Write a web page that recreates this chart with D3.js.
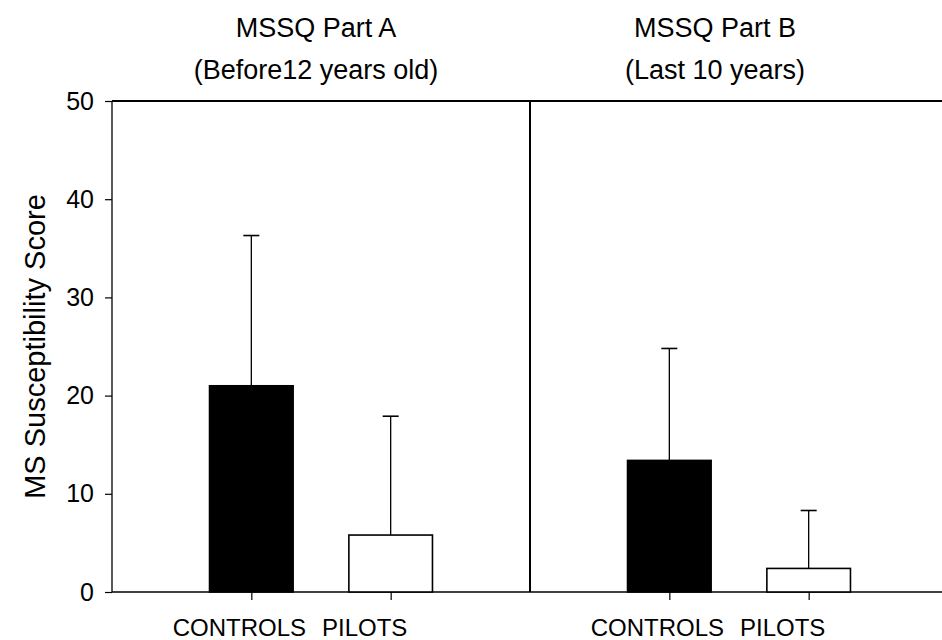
<!DOCTYPE html>
<html><head><meta charset="utf-8">
<script src="https://cdn.jsdelivr.net/npm/d3@7"></script>
<style>body{margin:0;background:#fff}svg{display:block}text{font-family:"Liberation Sans",Arial,sans-serif;fill:#000}</style>
</head><body><svg id="c" width="942" height="640"></svg>
<script>
const panels = ["A", "B"];
const panelTitles = [["MSSQ Part A", "(Before12 years old)"], ["MSSQ Part B", "(Last 10 years)"]];
const categories = ["CONTROLS", "PILOTS"];
const means = [[21.0, 5.8], [13.4, 2.4]];
const errorTops = [[36.3, 17.9], [24.8, 8.3]];
const yTicks = [0, 10, 20, 30, 40, 50];
const yTitle = "MS Susceptibility Score";

(function () {
const W = 942, H = 640;
const svg = d3.select("#c");
const plotTop = 101, plotBottom = 592, plotLeft = 112, panelW = 418;
const y = d3.scaleLinear().domain([0, 50]).range([plotBottom, plotTop]);

// y axis
const yAxis = d3.axisLeft(y).tickValues(yTicks).tickSize(7).tickPadding(11);
const ga = svg.append("g").attr("transform", `translate(${plotLeft},0)`).call(yAxis);
ga.select(".domain").remove();
ga.selectAll(".tick line").attr("stroke", "#000").attr("stroke-width", 1.2);
ga.selectAll(".tick text").style("font-size", "25px").attr("font-family", "Liberation Sans, Arial, sans-serif").attr("fill", "#000");
svg.append("line").attr("x1", plotLeft).attr("x2", plotLeft).attr("y1", plotTop).attr("y2", plotBottom).attr("stroke", "#000").attr("stroke-width", 1.3);

svg.append("text").attr("transform", `translate(45,${(plotTop + plotBottom) / 2}) rotate(-90)`)
  .attr("text-anchor", "middle").style("font-size", "29px").text(yTitle);

const titleDx = [-5, -24];
const catDx = [-12, -26];

panels.forEach((p, i) => {
  const x0 = plotLeft + i * panelW;
  const x = d3.scalePoint().domain(categories).range([x0, x0 + panelW]).padding(1);
  const bw = x.step() * 0.6;
  const g = svg.append("g");
  g.append("line").attr("x1", x0).attr("x2", Math.min(x0 + panelW, W)).attr("y1", plotTop).attr("y2", plotTop).attr("stroke", "#000").attr("stroke-width", 2);
  g.append("line").attr("x1", x0).attr("x2", Math.min(x0 + panelW, W)).attr("y1", plotBottom).attr("y2", plotBottom).attr("stroke", "#000").attr("stroke-width", 1.3);
  const xAxis = d3.axisBottom(x).tickSize(8).tickFormat("");
  const gx = g.append("g").attr("transform", `translate(0,${plotBottom})`).call(xAxis);
  gx.select(".domain").remove();
  gx.selectAll(".tick line").attr("stroke", "#000").attr("stroke-width", 1.2);
  categories.forEach((c, j) => {
    const cx = x(c);
    g.append("line").attr("x1", cx).attr("x2", cx).attr("y1", y(means[i][j])).attr("y2", y(errorTops[i][j])).attr("stroke", "#000").attr("stroke-width", 1.3);
    g.append("line").attr("x1", cx - 8).attr("x2", cx + 8).attr("y1", y(errorTops[i][j])).attr("y2", y(errorTops[i][j])).attr("stroke", "#000").attr("stroke-width", 1.6);
  });
  g.selectAll("rect.bar").data(categories).join("rect").attr("class", "bar")
    .attr("x", c => x(c) - bw / 2).attr("width", bw)
    .attr("y", (c, j) => y(means[i][j])).attr("height", (c, j) => plotBottom - y(means[i][j]))
    .attr("fill", (c, j) => j === 0 ? "#000" : "#fff").attr("stroke", "#000").attr("stroke-width", 1.6);
  categories.forEach((c, j) => {
    g.append("text").attr("x", x(c) + catDx[j]).attr("y", 636).attr("text-anchor", "middle").style("font-size", "24px").text(c);
  });
  const tx = x0 + panelW / 2 + titleDx[i];
  g.append("text").attr("x", tx).attr("y", 37).attr("text-anchor", "middle").style("font-size", "27px").text(panelTitles[i][0]);
  g.append("text").attr("x", tx).attr("y", 79).attr("text-anchor", "middle").style("font-size", "27px").text(panelTitles[i][1]);
  if (i === 0) g.append("line").attr("x1", x0 + panelW).attr("x2", x0 + panelW).attr("y1", plotTop).attr("y2", plotBottom).attr("stroke", "#000").attr("stroke-width", 2);
});
})();
</script></body></html>
